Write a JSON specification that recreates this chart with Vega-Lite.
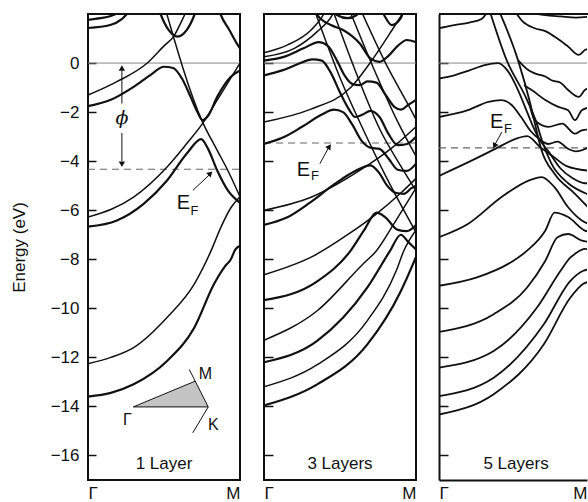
{
"$schema": "https://vega.github.io/schema/vega-lite/v6.json",
"background": "white",
"padding": {"left": 9, "top": 13, "right": 0, "bottom": 0},
"spacing": 20,
"datasets": {
"bands": [
{"panel":1,"band":"a","sym":"even","k":0,"E":-1.76},{"panel":1,"band":"a","sym":"even","k":0.146,"E":-1.51},{"panel":1,"band":"a","sym":"even","k":0.3,"E":-0.97},{"panel":1,"band":"a","sym":"even","k":0.41,"E":-0.49},{"panel":1,"band":"a","sym":"even","k":0.5,"E":-0.15},{"panel":1,"band":"a","sym":"even","k":0.56,"E":-0.2},{"panel":1,"band":"a","sym":"even","k":0.62,"E":-0.65},{"panel":1,"band":"a","sym":"even","k":0.675,"E":-1.38},{"panel":1,"band":"a","sym":"even","k":0.72,"E":-2.0},{"panel":1,"band":"a","sym":"even","k":0.753,"E":-2.33},{"panel":1,"band":"a","sym":"even","k":0.79,"E":-2.15},{"panel":1,"band":"a","sym":"even","k":0.85,"E":-1.38},{"panel":1,"band":"a","sym":"even","k":0.94,"E":-0.56},{"panel":1,"band":"a","sym":"even","k":1,"E":-0.3},
{"panel":1,"band":"b","sym":"even","k":0,"E":-6.67},{"panel":1,"band":"b","sym":"even","k":0.19,"E":-6.42},{"panel":1,"band":"b","sym":"even","k":0.366,"E":-5.74},{"panel":1,"band":"b","sym":"even","k":0.52,"E":-4.79},{"panel":1,"band":"b","sym":"even","k":0.65,"E":-3.69},{"panel":1,"band":"b","sym":"even","k":0.745,"E":-3.1},{"panel":1,"band":"b","sym":"even","k":0.79,"E":-3.5},{"panel":1,"band":"b","sym":"even","k":0.85,"E":-4.38},{"panel":1,"band":"b","sym":"even","k":0.92,"E":-5.19},{"panel":1,"band":"b","sym":"even","k":1,"E":-5.7},
{"panel":1,"band":"c","sym":"odd","k":0,"E":-6.28},{"panel":1,"band":"c","sym":"odd","k":0.3,"E":-5.47},{"panel":1,"band":"c","sym":"odd","k":0.52,"E":-4.24},{"panel":1,"band":"c","sym":"odd","k":0.65,"E":-3.28},{"panel":1,"band":"c","sym":"odd","k":0.753,"E":-2.47},{"panel":1,"band":"c","sym":"odd","k":0.85,"E":-1.51},{"panel":1,"band":"c","sym":"odd","k":1,"E":0.0},
{"panel":1,"band":"d","sym":"odd","k":0.5,"E":2.4},{"panel":1,"band":"d","sym":"odd","k":0.753,"E":-2.4},{"panel":1,"band":"d","sym":"odd","k":0.85,"E":-3.56},{"panel":1,"band":"d","sym":"odd","k":0.92,"E":-4.38},{"panel":1,"band":"d","sym":"odd","k":1,"E":-5.45},
{"panel":1,"band":"e","sym":"odd","k":0,"E":-1.31},{"panel":1,"band":"e","sym":"odd","k":0.19,"E":-0.76},{"panel":1,"band":"e","sym":"odd","k":0.39,"E":0.0},{"panel":1,"band":"e","sym":"odd","k":0.5,"E":0.7},{"panel":1,"band":"e","sym":"odd","k":0.565,"E":1.1},{"panel":1,"band":"e","sym":"odd","k":0.62,"E":1.76},{"panel":1,"band":"e","sym":"odd","k":0.66,"E":2.3},
{"panel":1,"band":"f","sym":"even","k":0.46,"E":2.3},{"panel":1,"band":"f","sym":"even","k":0.48,"E":1.96},{"panel":1,"band":"f","sym":"even","k":0.53,"E":1.35},{"panel":1,"band":"f","sym":"even","k":0.59,"E":1.08},{"panel":1,"band":"f","sym":"even","k":0.65,"E":1.35},{"panel":1,"band":"f","sym":"even","k":0.7,"E":1.96},{"panel":1,"band":"f","sym":"even","k":0.72,"E":2.3},
{"panel":1,"band":"g","sym":"even","k":0,"E":1.76},{"panel":1,"band":"g","sym":"even","k":0.08,"E":1.83},{"panel":1,"band":"g","sym":"even","k":0.15,"E":1.92},{"panel":1,"band":"g","sym":"even","k":0.22,"E":2.1},
{"panel":1,"band":"h","sym":"even","k":0,"E":1.43},{"panel":1,"band":"h","sym":"even","k":0.146,"E":1.55},{"panel":1,"band":"h","sym":"even","k":0.22,"E":1.78},{"panel":1,"band":"h","sym":"even","k":0.256,"E":2.0},{"panel":1,"band":"h","sym":"even","k":0.27,"E":2.1},
{"panel":1,"band":"i","sym":"even","k":0.86,"E":2.2},{"panel":1,"band":"i","sym":"even","k":0.874,"E":1.96},{"panel":1,"band":"i","sym":"even","k":0.93,"E":1.35},{"panel":1,"band":"i","sym":"even","k":0.985,"E":0.74},{"panel":1,"band":"i","sym":"even","k":1,"E":0.6},
{"panel":1,"band":"j","sym":"odd","k":0,"E":-12.26},{"panel":1,"band":"j","sym":"odd","k":0.15,"E":-12.0},{"panel":1,"band":"j","sym":"odd","k":0.3,"E":-11.6},{"panel":1,"band":"j","sym":"odd","k":0.52,"E":-10.37},{"panel":1,"band":"j","sym":"odd","k":0.7,"E":-9.0},{"panel":1,"band":"j","sym":"odd","k":0.81,"E":-7.65},{"panel":1,"band":"j","sym":"odd","k":0.874,"E":-6.7},{"panel":1,"band":"j","sym":"odd","k":0.94,"E":-5.9},{"panel":1,"band":"j","sym":"odd","k":1,"E":-5.45},
{"panel":1,"band":"k","sym":"even","k":0,"E":-13.6},{"panel":1,"band":"k","sym":"even","k":0.15,"E":-13.45},{"panel":1,"band":"k","sym":"even","k":0.3,"E":-13.1},{"panel":1,"band":"k","sym":"even","k":0.52,"E":-12.15},{"panel":1,"band":"k","sym":"even","k":0.7,"E":-10.78},{"panel":1,"band":"k","sym":"even","k":0.83,"E":-9.0},{"panel":1,"band":"k","sym":"even","k":0.9,"E":-8.3},{"panel":1,"band":"k","sym":"even","k":0.94,"E":-8.0},{"panel":1,"band":"k","sym":"even","k":0.97,"E":-7.6},{"panel":1,"band":"k","sym":"even","k":1,"E":-7.45},

{"panel":2,"band":"a","sym":"even","k":0,"E":0.1},{"panel":2,"band":"a","sym":"even","k":0.13,"E":0.25},{"panel":2,"band":"a","sym":"even","k":0.26,"E":0.6},{"panel":2,"band":"a","sym":"even","k":0.36,"E":0.85},{"panel":2,"band":"a","sym":"even","k":0.42,"E":0.7},{"panel":2,"band":"a","sym":"even","k":0.48,"E":0.1},{"panel":2,"band":"a","sym":"even","k":0.53,"E":-0.5},{"panel":2,"band":"a","sym":"even","k":0.58,"E":-0.85},{"panel":2,"band":"a","sym":"even","k":0.63,"E":-0.9},{"panel":2,"band":"a","sym":"even","k":0.68,"E":-0.75},{"panel":2,"band":"a","sym":"even","k":0.74,"E":-0.8},{"panel":2,"band":"a","sym":"even","k":0.8,"E":-1.3},{"panel":2,"band":"a","sym":"even","k":0.86,"E":-1.8},{"panel":2,"band":"a","sym":"even","k":0.9,"E":-1.9},{"panel":2,"band":"a","sym":"even","k":0.95,"E":-1.7},{"panel":2,"band":"a","sym":"even","k":1,"E":-1.5},
{"panel":2,"band":"b","sym":"even","k":0,"E":-0.5},{"panel":2,"band":"b","sym":"even","k":0.12,"E":-0.3},{"panel":2,"band":"b","sym":"even","k":0.22,"E":-0.05},{"panel":2,"band":"b","sym":"even","k":0.32,"E":0.15},{"panel":2,"band":"b","sym":"even","k":0.38,"E":0.1},{"panel":2,"band":"b","sym":"even","k":0.44,"E":-0.4},{"panel":2,"band":"b","sym":"even","k":0.5,"E":-1.2},{"panel":2,"band":"b","sym":"even","k":0.56,"E":-1.9},{"panel":2,"band":"b","sym":"even","k":0.6,"E":-2.2},{"panel":2,"band":"b","sym":"even","k":0.65,"E":-2.1},{"panel":2,"band":"b","sym":"even","k":0.7,"E":-1.95},{"panel":2,"band":"b","sym":"even","k":0.76,"E":-2.2},{"panel":2,"band":"b","sym":"even","k":0.82,"E":-2.9},{"panel":2,"band":"b","sym":"even","k":0.88,"E":-3.35},{"panel":2,"band":"b","sym":"even","k":0.94,"E":-3.3},{"panel":2,"band":"b","sym":"even","k":1,"E":-3.0},
{"panel":2,"band":"c","sym":"even","k":0,"E":-3.3},{"panel":2,"band":"c","sym":"even","k":0.12,"E":-3.05},{"panel":2,"band":"c","sym":"even","k":0.25,"E":-2.6},{"panel":2,"band":"c","sym":"even","k":0.38,"E":-2.1},{"panel":2,"band":"c","sym":"even","k":0.46,"E":-1.9},{"panel":2,"band":"c","sym":"even","k":0.52,"E":-2.0},{"panel":2,"band":"c","sym":"even","k":0.58,"E":-2.5},{"panel":2,"band":"c","sym":"even","k":0.64,"E":-3.15},{"panel":2,"band":"c","sym":"even","k":0.7,"E":-3.45},{"panel":2,"band":"c","sym":"even","k":0.76,"E":-3.5},{"panel":2,"band":"c","sym":"even","k":0.82,"E":-3.9},{"panel":2,"band":"c","sym":"even","k":0.88,"E":-4.35},{"panel":2,"band":"c","sym":"even","k":0.94,"E":-4.4},{"panel":2,"band":"c","sym":"even","k":1,"E":-4.1},
{"panel":2,"band":"d","sym":"even","k":0,"E":-6.6},{"panel":2,"band":"d","sym":"even","k":0.15,"E":-6.3},{"panel":2,"band":"d","sym":"even","k":0.3,"E":-5.7},{"panel":2,"band":"d","sym":"even","k":0.45,"E":-5.0},{"panel":2,"band":"d","sym":"even","k":0.6,"E":-4.4},{"panel":2,"band":"d","sym":"even","k":0.7,"E":-4.17},{"panel":2,"band":"d","sym":"even","k":0.76,"E":-4.5},{"panel":2,"band":"d","sym":"even","k":0.81,"E":-5.0},{"panel":2,"band":"d","sym":"even","k":0.87,"E":-5.3},{"panel":2,"band":"d","sym":"even","k":0.92,"E":-5.33},{"panel":2,"band":"d","sym":"even","k":0.97,"E":-5.1},{"panel":2,"band":"d","sym":"even","k":1,"E":-5.0},
{"panel":2,"band":"e","sym":"even","k":0,"E":-9.67},{"panel":2,"band":"e","sym":"even","k":0.35,"E":-8.9},{"panel":2,"band":"e","sym":"even","k":0.57,"E":-7.65},{"panel":2,"band":"e","sym":"even","k":0.66,"E":-6.8},{"panel":2,"band":"e","sym":"even","k":0.74,"E":-6.1},{"panel":2,"band":"e","sym":"even","k":0.8,"E":-6.3},{"panel":2,"band":"e","sym":"even","k":0.88,"E":-6.8},{"panel":2,"band":"e","sym":"even","k":0.94,"E":-6.85},{"panel":2,"band":"e","sym":"even","k":1,"E":-6.6},
{"panel":2,"band":"f","sym":"even","k":0,"E":-12.2},{"panel":2,"band":"f","sym":"even","k":0.35,"E":-11.33},{"panel":2,"band":"f","sym":"even","k":0.68,"E":-9.15},{"panel":2,"band":"f","sym":"even","k":0.83,"E":-7.65},{"panel":2,"band":"f","sym":"even","k":0.9,"E":-7.0},{"panel":2,"band":"f","sym":"even","k":0.95,"E":-7.3},{"panel":2,"band":"f","sym":"even","k":1,"E":-7.6},
{"panel":2,"band":"g","sym":"even","k":0,"E":-13.96},{"panel":2,"band":"g","sym":"even","k":0.35,"E":-13.1},{"panel":2,"band":"g","sym":"even","k":0.68,"E":-11.47},{"panel":2,"band":"g","sym":"even","k":0.9,"E":-9.3},{"panel":2,"band":"g","sym":"even","k":0.98,"E":-8.2},{"panel":2,"band":"g","sym":"even","k":1,"E":-7.9},
{"panel":2,"band":"h","sym":"even","k":0.33,"E":2.2},{"panel":2,"band":"h","sym":"even","k":0.35,"E":1.96},{"panel":2,"band":"h","sym":"even","k":0.44,"E":1.55},{"panel":2,"band":"h","sym":"even","k":0.52,"E":1.35},{"panel":2,"band":"h","sym":"even","k":0.63,"E":0.8},{"panel":2,"band":"h","sym":"even","k":0.7,"E":0.19},{"panel":2,"band":"h","sym":"even","k":0.76,"E":0.05},{"panel":2,"band":"h","sym":"even","k":0.82,"E":0.3},{"panel":2,"band":"h","sym":"even","k":0.88,"E":0.7},{"panel":2,"band":"h","sym":"even","k":0.94,"E":0.94},{"panel":2,"band":"h","sym":"even","k":1,"E":0.85},
{"panel":2,"band":"i","sym":"even","k":0.45,"E":2.2},{"panel":2,"band":"i","sym":"even","k":0.48,"E":1.96},{"panel":2,"band":"i","sym":"even","k":0.55,"E":1.83},{"panel":2,"band":"i","sym":"even","k":0.61,"E":1.96},{"panel":2,"band":"i","sym":"even","k":0.63,"E":2.2},
{"panel":2,"band":"j","sym":"even","k":0.77,"E":2.2},{"panel":2,"band":"j","sym":"even","k":0.79,"E":1.96},{"panel":2,"band":"j","sym":"even","k":0.84,"E":1.55},{"panel":2,"band":"j","sym":"even","k":0.9,"E":1.83},{"panel":2,"band":"j","sym":"even","k":0.92,"E":2.2},
{"panel":2,"band":"k","sym":"odd","k":0,"E":-8.63},{"panel":2,"band":"k","sym":"odd","k":0.33,"E":-7.85},{"panel":2,"band":"k","sym":"odd","k":0.55,"E":-7.0},{"panel":2,"band":"k","sym":"odd","k":0.74,"E":-6.15},{"panel":2,"band":"k","sym":"odd","k":0.9,"E":-5.3},{"panel":2,"band":"k","sym":"odd","k":1,"E":-4.7},
{"panel":2,"band":"l","sym":"odd","k":0,"E":-11.3},{"panel":2,"band":"l","sym":"odd","k":0.35,"E":-10.1},{"panel":2,"band":"l","sym":"odd","k":0.65,"E":-8.2},{"panel":2,"band":"l","sym":"odd","k":0.74,"E":-7.65},{"panel":2,"band":"l","sym":"odd","k":0.85,"E":-6.6},{"panel":2,"band":"l","sym":"odd","k":0.95,"E":-5.6},{"panel":2,"band":"l","sym":"odd","k":1,"E":-5.1},
{"panel":2,"band":"m","sym":"odd","k":0,"E":-13.2},{"panel":2,"band":"m","sym":"odd","k":0.35,"E":-12.3},{"panel":2,"band":"m","sym":"odd","k":0.68,"E":-10.5},{"panel":2,"band":"m","sym":"odd","k":0.87,"E":-8.47},{"panel":2,"band":"m","sym":"odd","k":0.92,"E":-7.65},{"panel":2,"band":"m","sym":"odd","k":1,"E":-6.8},
{"panel":2,"band":"n","sym":"odd","k":0,"E":-6.0},{"panel":2,"band":"n","sym":"odd","k":0.31,"E":-5.47},{"panel":2,"band":"n","sym":"odd","k":0.63,"E":-4.38},{"panel":2,"band":"n","sym":"odd","k":0.85,"E":-3.42},{"panel":2,"band":"n","sym":"odd","k":1,"E":-2.6},
{"panel":2,"band":"o","sym":"odd","k":0,"E":-2.4},{"panel":2,"band":"o","sym":"odd","k":0.3,"E":-1.9},{"panel":2,"band":"o","sym":"odd","k":0.57,"E":-1.0},{"panel":2,"band":"o","sym":"odd","k":0.72,"E":0.2},{"panel":2,"band":"o","sym":"odd","k":0.85,"E":1.42},{"panel":2,"band":"o","sym":"odd","k":0.93,"E":2.2},
{"panel":2,"band":"p","sym":"odd","k":0,"E":0.42},{"panel":2,"band":"p","sym":"odd","k":0.155,"E":0.74},{"panel":2,"band":"p","sym":"odd","k":0.31,"E":1.35},{"panel":2,"band":"p","sym":"odd","k":0.39,"E":1.96},{"panel":2,"band":"p","sym":"odd","k":0.41,"E":2.2},
{"panel":2,"band":"q","sym":"odd","k":0,"E":0.26},{"panel":2,"band":"q","sym":"odd","k":0.2,"E":0.6},{"panel":2,"band":"q","sym":"odd","k":0.35,"E":1.28},{"panel":2,"band":"q","sym":"odd","k":0.45,"E":1.96},{"panel":2,"band":"q","sym":"odd","k":0.47,"E":2.2},
{"panel":2,"band":"r","sym":"odd","k":0.33,"E":2.2},{"panel":2,"band":"r","sym":"odd","k":0.5,"E":-0.6},{"panel":2,"band":"r","sym":"odd","k":0.655,"E":-2.74},{"panel":2,"band":"r","sym":"odd","k":0.8,"E":-4.6},{"panel":2,"band":"r","sym":"odd","k":1,"E":-6.9},
{"panel":2,"band":"s","sym":"odd","k":0.45,"E":2.2},{"panel":2,"band":"s","sym":"odd","k":0.6,"E":-0.3},{"panel":2,"band":"s","sym":"odd","k":0.765,"E":-2.74},{"panel":2,"band":"s","sym":"odd","k":0.9,"E":-4.2},{"panel":2,"band":"s","sym":"odd","k":1,"E":-5.2},
{"panel":2,"band":"t","sym":"odd","k":0.56,"E":2.2},{"panel":2,"band":"t","sym":"odd","k":0.72,"E":-0.2},{"panel":2,"band":"t","sym":"odd","k":0.88,"E":-2.4},{"panel":2,"band":"t","sym":"odd","k":1,"E":-3.8},
{"panel":2,"band":"u","sym":"odd","k":0.634,"E":2.2},{"panel":2,"band":"u","sym":"odd","k":0.8,"E":0.0},{"panel":2,"band":"u","sym":"odd","k":0.98,"E":-2.06},{"panel":2,"band":"u","sym":"odd","k":1,"E":-2.3},

{"panel":3,"band":"a","sym":"mixed","k":0,"E":1.42},{"panel":3,"band":"a","sym":"mixed","k":0.1,"E":1.55},{"panel":3,"band":"a","sym":"mixed","k":0.2,"E":1.65},{"panel":3,"band":"a","sym":"mixed","k":0.28,"E":1.8},{"panel":3,"band":"a","sym":"mixed","k":0.33,"E":2.2},
{"panel":3,"band":"b","sym":"mixed","k":0.33,"E":2.2},{"panel":3,"band":"b","sym":"mixed","k":0.445,"E":0.12},{"panel":3,"band":"b","sym":"mixed","k":0.57,"E":-1.38},{"panel":3,"band":"b","sym":"mixed","k":0.64,"E":-2.4},{"panel":3,"band":"b","sym":"mixed","k":0.68,"E":-3.2},{"panel":3,"band":"b","sym":"mixed","k":0.74,"E":-4.1},{"panel":3,"band":"b","sym":"mixed","k":0.85,"E":-4.9},{"panel":3,"band":"b","sym":"mixed","k":0.96,"E":-5.3},{"panel":3,"band":"b","sym":"mixed","k":1,"E":-5.4},
{"panel":3,"band":"c","sym":"mixed","k":0.39,"E":2.2},{"panel":3,"band":"c","sym":"mixed","k":0.52,"E":0.12},{"panel":3,"band":"c","sym":"mixed","k":0.6,"E":-1.64},{"panel":3,"band":"c","sym":"mixed","k":0.64,"E":-2.7},{"panel":3,"band":"c","sym":"mixed","k":0.675,"E":-3.56},{"panel":3,"band":"c","sym":"mixed","k":0.76,"E":-4.51},{"panel":3,"band":"c","sym":"mixed","k":0.895,"E":-5.33},{"panel":3,"band":"c","sym":"mixed","k":1,"E":-6.0},
{"panel":3,"band":"d","sym":"mixed","k":0,"E":-0.63},{"panel":3,"band":"d","sym":"mixed","k":0.1,"E":-0.5},{"panel":3,"band":"d","sym":"mixed","k":0.2,"E":-0.3},{"panel":3,"band":"d","sym":"mixed","k":0.3,"E":-0.08},{"panel":3,"band":"d","sym":"mixed","k":0.39,"E":0.0},{"panel":3,"band":"d","sym":"mixed","k":0.45,"E":-0.3},{"panel":3,"band":"d","sym":"mixed","k":0.52,"E":-1.1},{"panel":3,"band":"d","sym":"mixed","k":0.58,"E":-2.0},{"panel":3,"band":"d","sym":"mixed","k":0.62,"E":-2.6},{"panel":3,"band":"d","sym":"mixed","k":0.66,"E":-3.1},{"panel":3,"band":"d","sym":"mixed","k":0.72,"E":-3.6},{"panel":3,"band":"d","sym":"mixed","k":0.8,"E":-4.3},{"panel":3,"band":"d","sym":"mixed","k":0.88,"E":-4.7},{"panel":3,"band":"d","sym":"mixed","k":0.96,"E":-4.9},{"panel":3,"band":"d","sym":"mixed","k":1,"E":-4.9},
{"panel":3,"band":"e","sym":"mixed","k":0,"E":-2.2},{"panel":3,"band":"e","sym":"mixed","k":0.19,"E":-1.92},{"panel":3,"band":"e","sym":"mixed","k":0.325,"E":-1.58},{"panel":3,"band":"e","sym":"mixed","k":0.41,"E":-1.51},{"panel":3,"band":"e","sym":"mixed","k":0.48,"E":-1.72},{"panel":3,"band":"e","sym":"mixed","k":0.54,"E":-2.2},{"panel":3,"band":"e","sym":"mixed","k":0.6,"E":-2.75},{"panel":3,"band":"e","sym":"mixed","k":0.66,"E":-3.1},{"panel":3,"band":"e","sym":"mixed","k":0.72,"E":-3.3},{"panel":3,"band":"e","sym":"mixed","k":0.78,"E":-3.2},{"panel":3,"band":"e","sym":"mixed","k":0.85,"E":-3.5},{"panel":3,"band":"e","sym":"mixed","k":0.9,"E":-3.6},{"panel":3,"band":"e","sym":"mixed","k":1,"E":-3.4},
{"panel":3,"band":"f","sym":"mixed","k":0,"E":-4.6},{"panel":3,"band":"f","sym":"mixed","k":0.19,"E":-4.05},{"panel":3,"band":"f","sym":"mixed","k":0.37,"E":-3.5},{"panel":3,"band":"f","sym":"mixed","k":0.5,"E":-3.1},{"panel":3,"band":"f","sym":"mixed","k":0.58,"E":-2.98},{"panel":3,"band":"f","sym":"mixed","k":0.665,"E":-3.42},{"panel":3,"band":"f","sym":"mixed","k":0.755,"E":-3.83},{"panel":3,"band":"f","sym":"mixed","k":0.84,"E":-4.2},{"panel":3,"band":"f","sym":"mixed","k":1,"E":-4.4},
{"panel":3,"band":"g","sym":"mixed","k":0,"E":-7.1},{"panel":3,"band":"g","sym":"mixed","k":0.19,"E":-6.56},{"panel":3,"band":"g","sym":"mixed","k":0.41,"E":-5.47},{"panel":3,"band":"g","sym":"mixed","k":0.59,"E":-4.79},{"panel":3,"band":"g","sym":"mixed","k":0.675,"E":-4.65},{"panel":3,"band":"g","sym":"mixed","k":0.76,"E":-5.06},{"panel":3,"band":"g","sym":"mixed","k":0.85,"E":-5.88},{"panel":3,"band":"g","sym":"mixed","k":0.94,"E":-6.42},{"panel":3,"band":"g","sym":"mixed","k":1,"E":-6.6},
{"panel":3,"band":"h","sym":"mixed","k":0,"E":-9.08},{"panel":3,"band":"h","sym":"mixed","k":0.25,"E":-8.74},{"panel":3,"band":"h","sym":"mixed","k":0.49,"E":-8.06},{"panel":3,"band":"h","sym":"mixed","k":0.58,"E":-7.65},{"panel":3,"band":"h","sym":"mixed","k":0.7,"E":-6.83},{"panel":3,"band":"h","sym":"mixed","k":0.76,"E":-6.1},{"panel":3,"band":"h","sym":"mixed","k":0.85,"E":-6.28},{"panel":3,"band":"h","sym":"mixed","k":0.96,"E":-6.83},{"panel":3,"band":"h","sym":"mixed","k":1,"E":-6.9},
{"panel":3,"band":"i","sym":"mixed","k":0,"E":-10.96},{"panel":3,"band":"i","sym":"mixed","k":0.36,"E":-10.24},{"panel":3,"band":"i","sym":"mixed","k":0.58,"E":-9.15},{"panel":3,"band":"i","sym":"mixed","k":0.7,"E":-8.06},{"panel":3,"band":"i","sym":"mixed","k":0.78,"E":-7.1},{"panel":3,"band":"i","sym":"mixed","k":0.85,"E":-6.97},{"panel":3,"band":"i","sym":"mixed","k":0.94,"E":-7.24},{"panel":3,"band":"i","sym":"mixed","k":1,"E":-7.3},
{"panel":3,"band":"j","sym":"mixed","k":0,"E":-12.42},{"panel":3,"band":"j","sym":"mixed","k":0.36,"E":-11.74},{"panel":3,"band":"j","sym":"mixed","k":0.645,"E":-9.97},{"panel":3,"band":"j","sym":"mixed","k":0.8,"E":-8.47},{"panel":3,"band":"j","sym":"mixed","k":0.865,"E":-7.92},{"panel":3,"band":"j","sym":"mixed","k":0.895,"E":-7.78},{"panel":3,"band":"j","sym":"mixed","k":0.96,"E":-7.58},{"panel":3,"band":"j","sym":"mixed","k":1,"E":-7.6},
{"panel":3,"band":"k","sym":"mixed","k":0,"E":-13.58},{"panel":3,"band":"k","sym":"mixed","k":0.36,"E":-12.83},{"panel":3,"band":"k","sym":"mixed","k":0.69,"E":-10.65},{"panel":3,"band":"k","sym":"mixed","k":0.865,"E":-8.88},{"panel":3,"band":"k","sym":"mixed","k":0.95,"E":-8.47},{"panel":3,"band":"k","sym":"mixed","k":1,"E":-8.4},
{"panel":3,"band":"l","sym":"mixed","k":0,"E":-14.33},{"panel":3,"band":"l","sym":"mixed","k":0.36,"E":-13.5},{"panel":3,"band":"l","sym":"mixed","k":0.69,"E":-11.47},{"panel":3,"band":"l","sym":"mixed","k":0.865,"E":-9.56},{"panel":3,"band":"l","sym":"mixed","k":0.95,"E":-9.0},{"panel":3,"band":"l","sym":"mixed","k":1,"E":-8.9},
{"panel":3,"band":"m","sym":"mixed","k":0.6,"E":2.05},{"panel":3,"band":"m","sym":"mixed","k":0.7,"E":1.95},{"panel":3,"band":"m","sym":"mixed","k":0.8,"E":1.9},{"panel":3,"band":"m","sym":"mixed","k":0.9,"E":1.85},{"panel":3,"band":"m","sym":"mixed","k":1,"E":1.9},
{"panel":3,"band":"n","sym":"mixed","k":0.49,"E":2.2},{"panel":3,"band":"n","sym":"mixed","k":0.55,"E":1.7},{"panel":3,"band":"n","sym":"mixed","k":0.63,"E":1.42},{"panel":3,"band":"n","sym":"mixed","k":0.7,"E":1.3},{"panel":3,"band":"n","sym":"mixed","k":0.76,"E":1.08},{"panel":3,"band":"n","sym":"mixed","k":0.85,"E":0.67},{"panel":3,"band":"n","sym":"mixed","k":0.92,"E":0.33},{"panel":3,"band":"n","sym":"mixed","k":0.96,"E":0.53},{"panel":3,"band":"n","sym":"mixed","k":1,"E":0.6},
{"panel":3,"band":"o","sym":"mixed","k":0.52,"E":0.12},{"panel":3,"band":"o","sym":"mixed","k":0.58,"E":-0.25},{"panel":3,"band":"o","sym":"mixed","k":0.63,"E":-0.42},{"panel":3,"band":"o","sym":"mixed","k":0.7,"E":-0.55},{"panel":3,"band":"o","sym":"mixed","k":0.74,"E":-0.7},{"panel":3,"band":"o","sym":"mixed","k":0.8,"E":-0.8},{"panel":3,"band":"o","sym":"mixed","k":0.85,"E":-1.1},{"panel":3,"band":"o","sym":"mixed","k":0.92,"E":-1.38},{"panel":3,"band":"o","sym":"mixed","k":0.96,"E":-1.1},{"panel":3,"band":"o","sym":"mixed","k":1,"E":-1.0},
{"panel":3,"band":"p","sym":"mixed","k":0.56,"E":-0.9},{"panel":3,"band":"p","sym":"mixed","k":0.61,"E":-1.1},{"panel":3,"band":"p","sym":"mixed","k":0.7,"E":-1.51},{"panel":3,"band":"p","sym":"mixed","k":0.785,"E":-1.79},{"panel":3,"band":"p","sym":"mixed","k":0.85,"E":-1.92},{"panel":3,"band":"p","sym":"mixed","k":0.895,"E":-2.33},{"panel":3,"band":"p","sym":"mixed","k":0.94,"E":-1.92},{"panel":3,"band":"p","sym":"mixed","k":1,"E":-1.8},
{"panel":3,"band":"q","sym":"mixed","k":0.6,"E":-1.8},{"panel":3,"band":"q","sym":"mixed","k":0.63,"E":-2.33},{"panel":3,"band":"q","sym":"mixed","k":0.72,"E":-2.6},{"panel":3,"band":"q","sym":"mixed","k":0.81,"E":-2.47},{"panel":3,"band":"q","sym":"mixed","k":0.895,"E":-2.88},{"panel":3,"band":"q","sym":"mixed","k":0.94,"E":-2.74},{"panel":3,"band":"q","sym":"mixed","k":1,"E":-2.7}
],
"levels": [
{"panel":1,"level":"vacuum","k":0,"k2":1,"E":0},{"panel":2,"level":"vacuum","k":0,"k2":1,"E":0},{"panel":3,"level":"vacuum","k":0,"k2":1,"E":0},
{"panel":1,"level":"fermi","k":0,"k2":1,"E":-4.33},{"panel":2,"level":"fermi","k":0,"k2":1,"E":-3.26},{"panel":3,"level":"fermi","k":0,"k2":1,"E":-3.46}
],
"segments": [
{"panel":1,"k":0.223,"E":-0.3,"k2":0.223,"E2":-1.65},{"panel":1,"k":0.223,"E":-2.85,"k2":0.223,"E2":-4.0},
{"panel":1,"k":0.69,"E":-5.19,"k2":0.8,"E2":-4.55},
{"panel":1,"k":0.298,"E":-14.02,"k2":0.705,"E2":-12.97},{"panel":1,"k":0.298,"E":-14.02,"k2":0.791,"E2":-14.02},
{"panel":1,"k":0.666,"E":-12.49,"k2":0.791,"E2":-14.02},{"panel":1,"k":0.791,"E":-14.02,"k2":0.689,"E2":-15.08},
{"panel":2,"k":0.368,"E":-4.1,"k2":0.425,"E2":-3.45},
{"panel":3,"k":0.414,"E":-2.81,"k2":0.37,"E2":-3.3}
],
"heads": [
{"panel":1,"k":0.223,"E":-0.2,"heading":0},{"panel":1,"k":0.223,"E":-4.13,"heading":180},{"panel":1,"k":0.805,"E":-4.5,"heading":45},
{"panel":2,"k":0.43,"E":-3.4,"heading":34},
{"panel":3,"k":0.365,"E":-3.38,"heading":207}
],
"zone": [
{"panel":1,"k":0.298,"E":-14.02,"E2":-14.02},{"panel":1,"k":0.705,"E":-12.97,"E2":-14.02},{"panel":1,"k":0.791,"E":-14.02,"E2":-14.02}
],
"notes": [
{"panel":1,"role":"layer","k":0.5,"E":-16.34,"text":"1 Layer"},
{"panel":2,"role":"layer","k":0.5,"E":-16.34,"text":"3 Layers"},
{"panel":3,"role":"layer","k":0.507,"E":-16.34,"text":"5 Layers"},
{"panel":1,"role":"E","k":0.627,"E":-5.7,"text":"E"},{"panel":1,"role":"F","k":0.7,"E":-6.05,"text":"F"},
{"panel":2,"role":"E","k":0.259,"E":-4.38,"text":"E"},{"panel":2,"role":"F","k":0.335,"E":-4.62,"text":"F"},
{"panel":3,"role":"E","k":0.38,"E":-2.4,"text":"E"},{"panel":3,"role":"F","k":0.454,"E":-2.7,"text":"F"},
{"panel":1,"role":"phi","k":0.223,"E":-2.25,"text":"ϕ"},
{"panel":1,"role":"zone","k":0.773,"E":-12.66,"text":"M"},{"panel":1,"role":"zone","k":0.824,"E":-14.76,"text":"K"},{"panel":1,"role":"zone","k":0.26,"E":-14.56,"text":"Γ"}
]
},
"config": {
"view": {"stroke": "#111", "strokeWidth": 2},
"axis": {"grid": false, "domain": false, "labelFont": "Liberation Sans", "labelFontSize": 17, "labelColor": "#111", "titleFont": "Liberation Sans", "titleFontSize": 17, "titleFontWeight": "normal", "titleColor": "#111", "tickColor": "#111", "tickWidth": 1.5},
"text": {"font": "Liberation Sans", "color": "#111"},
"line": {"interpolate": "monotone", "color": "#111"}
},
"hconcat": [
{
"width": 152, "height": 466,
"encoding": {
"x": {"field": "k", "type": "quantitative", "scale": {"domain": [0, 1], "nice": false, "zero": false}, "axis": {"values": [0, 1], "labelExpr": "datum.value < 0.5 ? 'Γ' : 'M'", "ticks": false, "title": null, "labelPadding": 5, "labelAlign": {"condition": {"test": "datum.value < 0.5", "value": "left"}, "value": "right"}}},
"y": {"field": "E", "type": "quantitative", "scale": {"domain": [-17, 2], "nice": false, "zero": false}, "axis": {"values": [-16, -14, -12, -10, -8, -6, -4, -2, 0], "title": "Energy (eV)", "tickSize": -8, "labelPadding": 17, "titlePadding": 22}}
},
"layer": [
{"data": {"name": "levels"}, "transform": [{"filter": "datum.panel == 1 && datum.level == 'vacuum'"}], "mark": {"type": "rule", "color": "#888", "strokeWidth": 1}, "encoding": {"x2": {"field": "k2"}}},
{"data": {"name": "levels"}, "transform": [{"filter": "datum.panel == 1 && datum.level == 'fermi'"}], "mark": {"type": "rule", "color": "#666", "strokeWidth": 1.2, "strokeDash": [7, 5]}, "encoding": {"x2": {"field": "k2"}}},
{"data": {"name": "zone"}, "transform": [{"filter": "datum.panel == 1"}], "mark": {"type": "area", "color": "#c4c4c4", "interpolate": "linear"}, "encoding": {"y2": {"field": "E2"}}},
{"data": {"name": "bands"}, "transform": [{"filter": "datum.panel == 1"}], "mark": {"type": "line", "clip": true}, "encoding": {"detail": {"field": "band"}, "strokeWidth": {"field": "sym", "type": "nominal", "scale": {"domain": ["even", "odd", "mixed"], "range": [2.2, 0.8, 2.0]}, "legend": null}}},
{"data": {"name": "segments"}, "transform": [{"filter": "datum.panel == 1"}], "mark": {"type": "rule", "color": "#111", "strokeWidth": 1}, "encoding": {"x2": {"field": "k2"}, "y2": {"field": "E2"}}},
{"data": {"name": "heads"}, "transform": [{"filter": "datum.panel == 1"}], "mark": {"type": "point", "shape": "triangle-up", "filled": true, "color": "#111", "size": 40, "opacity": 1}, "encoding": {"angle": {"field": "heading", "type": "quantitative", "scale": null}}},
{"data": {"name": "notes"}, "transform": [{"filter": "datum.panel == 1 && datum.role == 'layer'"}], "mark": {"type": "text", "fontSize": 17}, "encoding": {"text": {"field": "text"}}},
{"data": {"name": "notes"}, "transform": [{"filter": "datum.panel == 1 && datum.role == 'E'"}], "mark": {"type": "text", "fontSize": 20}, "encoding": {"text": {"field": "text"}}},
{"data": {"name": "notes"}, "transform": [{"filter": "datum.panel == 1 && datum.role == 'F'"}], "mark": {"type": "text", "fontSize": 13}, "encoding": {"text": {"field": "text"}}},
{"data": {"name": "notes"}, "transform": [{"filter": "datum.panel == 1 && datum.role == 'phi'"}], "mark": {"type": "text", "fontSize": 19, "fontStyle": "italic", "font": "DejaVu Serif"}, "encoding": {"text": {"field": "text"}}},
{"data": {"name": "notes"}, "transform": [{"filter": "datum.panel == 1 && datum.role == 'zone'"}], "mark": {"type": "text", "fontSize": 16}, "encoding": {"text": {"field": "text"}}}
]
},
{
"width": 152, "height": 466,
"encoding": {
"x": {"field": "k", "type": "quantitative", "scale": {"domain": [0, 1], "nice": false, "zero": false}, "axis": {"values": [0, 1], "labelExpr": "datum.value < 0.5 ? 'Γ' : 'M'", "ticks": false, "title": null, "labelPadding": 5, "labelAlign": {"condition": {"test": "datum.value < 0.5", "value": "left"}, "value": "right"}}},
"y": {"field": "E", "type": "quantitative", "scale": {"domain": [-17, 2], "nice": false, "zero": false}, "axis": {"values": [-16, -14, -12, -10, -8, -6, -4, -2, 0], "title": null, "labels": false, "tickSize": -9}}
},
"layer": [
{"data": {"name": "levels"}, "transform": [{"filter": "datum.panel == 2 && datum.level == 'vacuum'"}], "mark": {"type": "rule", "color": "#888", "strokeWidth": 1}, "encoding": {"x2": {"field": "k2"}}},
{"data": {"name": "levels"}, "transform": [{"filter": "datum.panel == 2 && datum.level == 'fermi'"}], "mark": {"type": "rule", "color": "#666", "strokeWidth": 1.2, "strokeDash": [7, 5]}, "encoding": {"x2": {"field": "k2"}}},
{"data": {"name": "bands"}, "transform": [{"filter": "datum.panel == 2"}], "mark": {"type": "line", "clip": true}, "encoding": {"detail": {"field": "band"}, "strokeWidth": {"field": "sym", "type": "nominal", "scale": {"domain": ["even", "odd", "mixed"], "range": [2.2, 0.8, 2.0]}, "legend": null}}},
{"data": {"name": "segments"}, "transform": [{"filter": "datum.panel == 2"}], "mark": {"type": "rule", "color": "#111", "strokeWidth": 1}, "encoding": {"x2": {"field": "k2"}, "y2": {"field": "E2"}}},
{"data": {"name": "heads"}, "transform": [{"filter": "datum.panel == 2"}], "mark": {"type": "point", "shape": "triangle-up", "filled": true, "color": "#111", "size": 40, "opacity": 1}, "encoding": {"angle": {"field": "heading", "type": "quantitative", "scale": null}}},
{"data": {"name": "notes"}, "transform": [{"filter": "datum.panel == 2 && datum.role == 'layer'"}], "mark": {"type": "text", "fontSize": 17}, "encoding": {"text": {"field": "text"}}},
{"data": {"name": "notes"}, "transform": [{"filter": "datum.panel == 2 && datum.role == 'E'"}], "mark": {"type": "text", "fontSize": 20}, "encoding": {"text": {"field": "text"}}},
{"data": {"name": "notes"}, "transform": [{"filter": "datum.panel == 2 && datum.role == 'F'"}], "mark": {"type": "text", "fontSize": 13}, "encoding": {"text": {"field": "text"}}}
]
},
{
"width": 148, "height": 466,
"view": {"stroke": null},
"encoding": {
"x": {"field": "k", "type": "quantitative", "scale": {"domain": [0, 0.974], "nice": false, "zero": false}, "axis": {"values": [0, 0.974], "labelExpr": "datum.value < 0.5 ? 'Γ' : 'M'", "ticks": false, "title": null, "labelPadding": 5, "domain": true, "domainColor": "#111", "domainWidth": 2, "labelAlign": {"condition": {"test": "datum.value < 0.5", "value": "left"}, "value": "right"}}},
"y": {"field": "E", "type": "quantitative", "scale": {"domain": [-17, 2], "nice": false, "zero": false}, "axis": {"values": [-16, -14, -12, -10, -8, -6, -4, -2, 0], "title": null, "labels": false, "tickSize": -9, "domain": true, "domainColor": "#111", "domainWidth": 2}}
},
"layer": [
{"data": {"name": "levels"}, "transform": [{"filter": "datum.panel == 3 && datum.level == 'vacuum'"}], "mark": {"type": "rule", "color": "#888", "strokeWidth": 1, "clip": true}, "encoding": {"x2": {"field": "k2"}}},
{"data": {"name": "levels"}, "transform": [{"filter": "datum.panel == 3 && datum.level == 'fermi'"}], "mark": {"type": "rule", "color": "#666", "strokeWidth": 1.2, "strokeDash": [7, 5], "clip": true}, "encoding": {"x2": {"field": "k2"}}},
{"data": {"name": "levels"}, "transform": [{"filter": "datum.panel == 3 && datum.level == 'vacuum'"}], "mark": {"type": "rule", "color": "#111", "strokeWidth": 2, "clip": false}, "encoding": {"x2": {"field": "k2"}, "y": {"datum": 2}}},
{"data": {"name": "bands"}, "transform": [{"filter": "datum.panel == 3"}], "mark": {"type": "line", "clip": true, "strokeWidth": 1.8}, "encoding": {"detail": {"field": "band"}}},
{"data": {"name": "segments"}, "transform": [{"filter": "datum.panel == 3"}], "mark": {"type": "rule", "color": "#111", "strokeWidth": 1}, "encoding": {"x2": {"field": "k2"}, "y2": {"field": "E2"}}},
{"data": {"name": "heads"}, "transform": [{"filter": "datum.panel == 3"}], "mark": {"type": "point", "shape": "triangle-up", "filled": true, "color": "#111", "size": 40, "opacity": 1}, "encoding": {"angle": {"field": "heading", "type": "quantitative", "scale": null}}},
{"data": {"name": "notes"}, "transform": [{"filter": "datum.panel == 3 && datum.role == 'layer'"}], "mark": {"type": "text", "fontSize": 17}, "encoding": {"text": {"field": "text"}}},
{"data": {"name": "notes"}, "transform": [{"filter": "datum.panel == 3 && datum.role == 'E'"}], "mark": {"type": "text", "fontSize": 20}, "encoding": {"text": {"field": "text"}}},
{"data": {"name": "notes"}, "transform": [{"filter": "datum.panel == 3 && datum.role == 'F'"}], "mark": {"type": "text", "fontSize": 13}, "encoding": {"text": {"field": "text"}}}
]
}
]
}
